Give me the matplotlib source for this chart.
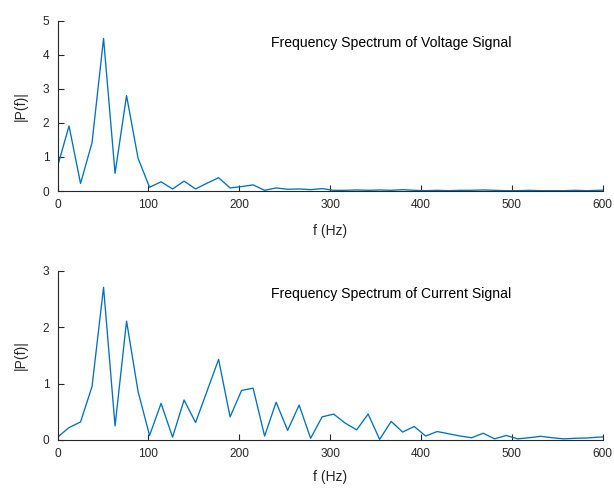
import numpy as np
import matplotlib
matplotlib.use("Agg")
import matplotlib.pyplot as plt

plt.rcParams['font.family'] = ['Liberation Sans', 'DejaVu Sans']

# single-sided amplitude spectra, one bin every df Hz
df = 12.66
volt_amp = [0.72, 1.91, 0.22, 1.42, 4.48, 0.52, 2.80, 0.96, 0.11, 0.27,
            0.06, 0.29, 0.06, 0.23, 0.39, 0.09, 0.13, 0.18, 0.02, 0.09,
            0.05, 0.06, 0.04, 0.07, 0.02, 0.02, 0.03, 0.02, 0.03, 0.02,
            0.04, 0.02, 0.01, 0.02, 0.01, 0.02, 0.02, 0.03, 0.02, 0.01,
            0.01, 0.02, 0.01, 0.01, 0.01, 0.02, 0.01, 0.02, 0.03]
curr_amp = [0.05, 0.22, 0.32, 0.95, 2.71, 0.25, 2.11, 0.86, 0.08, 0.65,
            0.05, 0.71, 0.31, 0.87, 1.43, 0.41, 0.88, 0.92, 0.07, 0.67,
            0.17, 0.62, 0.03, 0.41, 0.46, 0.30, 0.18, 0.46, 0.01, 0.33,
            0.14, 0.24, 0.07, 0.15, 0.11, 0.07, 0.04, 0.12, 0.02, 0.08,
            0.02, 0.04, 0.065, 0.04, 0.02, 0.03, 0.035, 0.05, 0.06]
freq = np.arange(len(volt_amp)) * df

titles = ['Frequency Spectrum of Voltage Signal',
          'Frequency Spectrum of Current Signal']
ylims = [5, 3]
title_y = [4.34, 2.60]
xlabel_pad = [9, 7]

fig = plt.figure(figsize=(6.14, 4.88), dpi=100, facecolor='white')
ax1 = fig.add_axes([0.0937, 0.6086, 0.888, 0.349])
ax2 = fig.add_axes([0.0937, 0.0984, 0.888, 0.3463])

for ax, amp, ttl, ymax, ty, lp in zip([ax1, ax2], [volt_amp, curr_amp], titles,
                                      ylims, title_y, xlabel_pad):
    ax.plot(freq, amp, color='#0072BD', lw=0.95)
    ax.set_xlim(0, 600)
    ax.set_ylim(0, ymax)
    ax.set_xticks(np.arange(0, 601, 100))
    ax.set_yticks(np.arange(0, ymax + 1, 1))
    for s in ['top', 'right']:
        ax.spines[s].set_visible(False)
    for s in ['left', 'bottom']:
        ax.spines[s].set_color('#262626')
        ax.spines[s].set_linewidth(0.8)
    ax.tick_params(direction='in', length=4, width=0.8, colors='#262626',
                   labelsize=8.6, pad=6)
    ax.set_xlabel('f (Hz)', fontsize=10, color='#262626', labelpad=lp)
    ax.set_ylabel('|P(f)|', fontsize=10, color='#262626', labelpad=11)
    ax.text(235, ty, ttl, fontsize=10.1, ha='left', va='center', color='black')

fig.savefig('out.png', dpi=100)
